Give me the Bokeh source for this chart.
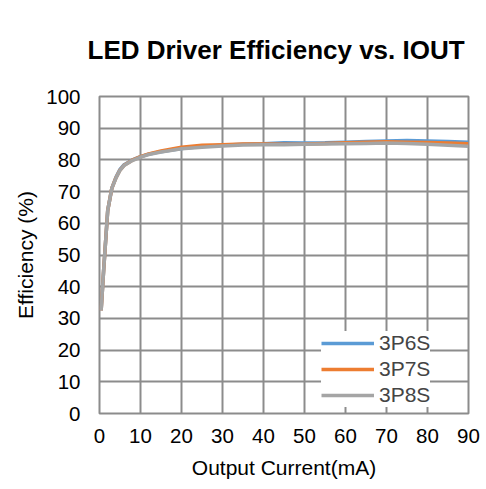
from bokeh.plotting import figure
from bokeh.models import Range1d, FixedTicker, Legend, LegendItem
from bokeh.embed import file_html
from bokeh.resources import INLINE

title_text = "LED Driver Efficiency vs. IOUT"
x_label = "Output Current(mA)"
y_label = "Efficiency (%)"

current = [0.4, 1, 2, 3, 4, 5, 6, 8, 10, 12, 15, 20, 25, 30, 35, 40, 45, 50, 55, 60, 65, 70, 75, 80, 85, 90]
eff_3p6s = [32.5, 45, 64, 71, 74.5, 77, 78.5, 80, 81, 81.8, 82.6, 83.6, 84.2, 84.6, 84.9, 85.1, 85.4, 85.3, 85.4, 85.6, 85.8, 86.0, 86.1, 86.0, 85.8, 85.6]
eff_3p7s = [32.5, 45, 64, 71, 74.3, 76.8, 78.3, 79.9, 81, 81.9, 82.8, 84.0, 84.6, 84.8, 85.0, 85.0, 84.9, 85.0, 85.2, 85.4, 85.6, 85.7, 85.6, 85.5, 85.3, 85.1]
eff_3p8s = [32.5, 45, 64, 71, 74.2, 76.7, 78.2, 79.8, 80.9, 81.7, 82.5, 83.5, 84.0, 84.4, 84.7, 84.8, 84.8, 84.9, 85.0, 85.1, 85.2, 85.3, 85.2, 84.9, 84.6, 84.3]
series_names = ["3P6S", "3P7S", "3P8S"]
colors = ["#5B9BD5", "#ED7D31", "#A5A5A5"]
x_ticks = list(range(0, 91, 10))
y_ticks = list(range(0, 101, 10))

FONT = "Liberation Sans"
GRID = "#8C8C8C"

p = figure(width=480, height=489, output_backend="svg", toolbar_location=None,
           x_range=Range1d(0, 90), y_range=Range1d(0, 100),
           min_border_left=99, min_border_right=12, min_border_top=96, min_border_bottom=76,
           title=title_text)

p.title.align = "left"
p.title.offset = -12
p.title.standoff = 64
p.title.text_font = FONT
p.title.text_font_size = "26px"
p.title.text_font_style = "bold"
p.title.text_color = "#000000"

p.outline_line_color = GRID
p.outline_line_width = 2
for g in (p.xgrid, p.ygrid):
    g.grid_line_color = GRID
    g.grid_line_width = 2
p.xaxis.ticker = FixedTicker(ticks=x_ticks)
p.yaxis.ticker = FixedTicker(ticks=y_ticks)
for ax in (p.xaxis, p.yaxis):
    ax.axis_line_color = None
    ax.major_tick_line_color = None
    ax.minor_tick_line_color = None
    ax.major_tick_out = 0
    ax.major_tick_in = 0
    ax.minor_tick_out = 0
    ax.major_label_text_font = FONT
    ax.major_label_text_font_size = "20.5px"
    ax.major_label_text_color = "#000000"
    ax.axis_label_text_font = FONT
    ax.axis_label_text_font_size = "21px"
    ax.axis_label_text_font_style = "normal"
    ax.axis_label_text_color = "#000000"
p.xaxis.axis_label = x_label
p.yaxis.axis_label = y_label
p.xaxis.major_label_standoff = 15
p.yaxis.major_label_standoff = 19
p.xaxis.axis_label_standoff = 10
p.yaxis.axis_label_standoff = 6

items = []
for name, ys, c in zip(series_names, [eff_3p6s, eff_3p7s, eff_3p8s], colors):
    r = p.line(current, ys, line_color=c, line_width=3.5)
    items.append(LegendItem(label=name, renderers=[r]))

legend = Legend(items=items, location=(222, 6), background_fill_color="white",
                background_fill_alpha=1, border_line_color=None,
                label_text_font=FONT, label_text_font_size="21px",
                glyph_width=53, glyph_height=24, label_height=24,
                spacing=2, padding=8, margin=0, label_standoff=5)
p.add_layout(legend, "center")

open("out.html", "w").write(file_html(p, INLINE))
